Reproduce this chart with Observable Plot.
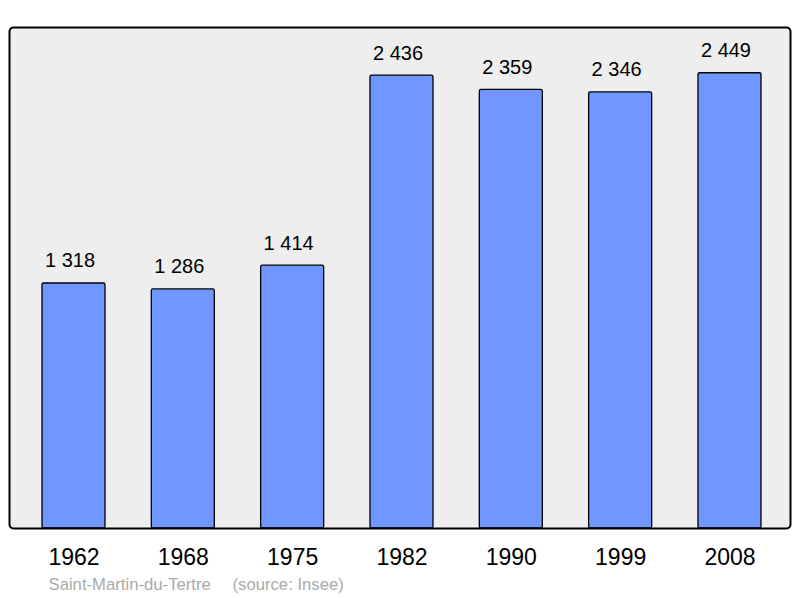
<!DOCTYPE html>
<html>
<head>
<meta charset="utf-8">
<script src="https://cdn.jsdelivr.net/npm/d3@7"></script>
<script src="https://cdn.jsdelivr.net/npm/@observablehq/plot@0.6"></script>
<style>
  html, body { margin: 0; padding: 0; background: #ffffff; }
  svg { display: block; }
</style>
</head>
<body>
<div id="chart"></div>
<script>
const years = ["1962", "1968", "1975", "1982", "1990", "1999", "2008"];
const population = [1318, 1286, 1414, 2436, 2359, 2346, 2449];
const commune = "Saint-Martin-du-Tertre";
const source = "(source: Insee)";

const data = years.map((y, i) => ({year: y, pop: population[i]}));
const fmt = v => d3.format(",")(v).replace(/,/g, " ");

const chart = Plot.plot({
  width: 800,
  height: 598,
  marginLeft: 9,
  marginRight: 10,
  marginTop: 27,
  marginBottom: 70,
  style: {fontFamily: "'Liberation Sans', Arial, sans-serif", background: "#ffffff"},
  x: {domain: years, paddingInner: 0.4238, paddingOuter: 0.2836, align: 0.532, round: false, axis: null},
  y: {domain: [0, 2695], axis: null},
  marks: [
    Plot.frame({fill: "#eeeeee", rx: 4}),
    Plot.barY(data, {x: "year", y: "pop", fill: "#7096ff", stroke: "#000000", strokeWidth: 1.3, rx: 1.5}),
    Plot.text(data, {x: "year", y: "pop", text: d => fmt(d.pop), dy: -16, dx: -4, lineAnchor: "bottom", fontSize: 20, fill: "#000000"}),
    Plot.frame({stroke: "#000000", strokeWidth: 2, rx: 4}),
    Plot.axisX({tickSize: 0, tickPadding: 20, fontSize: 23, color: "#000000", label: null}),
    Plot.text([commune], {frameAnchor: "bottom-left", text: d => d, dx: 39, dy: 61, lineAnchor: "bottom", textAnchor: "start", fontSize: 16.7, fill: "#aaaaaa"}),
    Plot.text([source], {frameAnchor: "bottom-left", text: d => d, dx: 223, dy: 61, lineAnchor: "bottom", textAnchor: "start", fontSize: 16.7, fill: "#aaaaaa"})
  ]
});
document.getElementById("chart").appendChild(chart);
</script>
</body>
</html>
